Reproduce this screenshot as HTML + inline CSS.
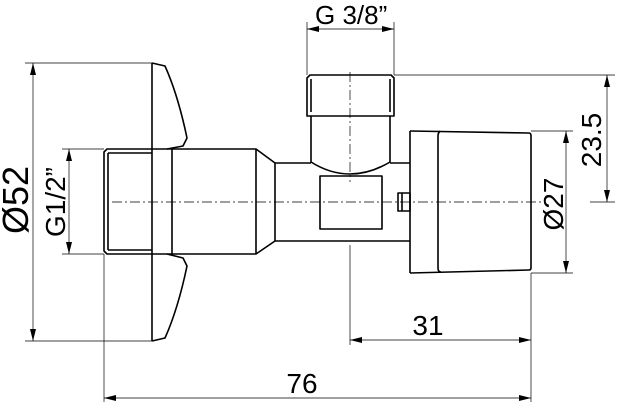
<!DOCTYPE html>
<html><head><style>html,body{margin:0;padding:0;background:#fff}svg{display:block}</style></head>
<body>
<svg width="621" height="407" viewBox="0 0 621 407" xmlns="http://www.w3.org/2000/svg" font-family="Liberation Sans, sans-serif">
<defs>
<marker id="a" viewBox="0 0 12 6" refX="12" refY="3" markerWidth="12" markerHeight="6" orient="auto-start-reverse" markerUnits="userSpaceOnUse"><path d="M0,0L12,3L0,6z" fill="#000"/></marker>
</defs>
<g stroke="#000" stroke-width="0.7" fill="none">
<line x1="25" y1="63" x2="152" y2="63"/><line x1="25" y1="341" x2="152" y2="341"/>
<line x1="62" y1="149" x2="104" y2="149"/><line x1="62" y1="254" x2="104" y2="254"/>
<line x1="104" y1="254" x2="104" y2="402"/><line x1="531" y1="273" x2="531" y2="402"/>
<line x1="350" y1="245" x2="350" y2="345"/>
<line x1="307" y1="22" x2="307" y2="75"/><line x1="394" y1="22" x2="394" y2="75"/>
<line x1="394" y1="75" x2="615" y2="75"/><line x1="590" y1="202" x2="615" y2="202"/>
<line x1="531" y1="131" x2="573" y2="131"/><line x1="531" y1="273" x2="573" y2="273"/>
<line x1="33" y1="63" x2="33" y2="341" marker-start="url(#a)" marker-end="url(#a)"/>
<line x1="69" y1="149" x2="69" y2="254" marker-start="url(#a)" marker-end="url(#a)"/>
<line x1="307" y1="29" x2="394" y2="29" marker-start="url(#a)" marker-end="url(#a)"/>
<line x1="607" y1="75" x2="607" y2="202" marker-start="url(#a)" marker-end="url(#a)"/>
<line x1="566" y1="131" x2="566" y2="273" marker-start="url(#a)" marker-end="url(#a)"/>
<line x1="350" y1="340" x2="531" y2="340" marker-start="url(#a)" marker-end="url(#a)"/>
<line x1="104" y1="398" x2="531" y2="398" marker-start="url(#a)" marker-end="url(#a)"/>
<line x1="112" y1="202" x2="545" y2="202" stroke-dasharray="10,3,2,3"/>
<line x1="350" y1="72" x2="350" y2="182" stroke-dasharray="10,3,2,3"/>
</g>
<g stroke="#000" stroke-width="1.6" fill="none" stroke-linejoin="round">
<line x1="152" y1="63" x2="152" y2="341"/>
<path d="M152,63 L165,66 Q178,95 187,138 L183,146 L167,149"/>
<path d="M152,341 L165,338 Q178,309 187,266 L183,258 L167,254"/>
<path d="M152,149 L107,149 L104,152 L104,251 L107,254 L152,254"/>
<line x1="108" y1="153" x2="152" y2="153"/><line x1="108" y1="250" x2="152" y2="250"/><line x1="108" y1="153" x2="108" y2="250"/>
<path d="M152,149 L256,149 L275,163 L311,163"/>
<path d="M152,254 L256,254 L275,241 L410,241"/>
<line x1="172" y1="149" x2="172" y2="254"/><line x1="256" y1="149" x2="256" y2="254"/>
<line x1="275" y1="163" x2="275" y2="241"/>
<line x1="390" y1="163" x2="410" y2="163"/>
<path d="M311,116 L311,162 Q330,174 350,174 Q370,174 390,162 L390,116"/>
<path d="M307,116 L307,78 L310,75 L391,75 L394,78 L394,116 Z"/>
<line x1="311" y1="79" x2="311" y2="112"/><line x1="390" y1="79" x2="390" y2="112"/>
<rect x="320" y="176" width="62" height="53"/>
<rect x="398" y="193" width="12" height="18"/><line x1="402" y1="193" x2="402" y2="211"/>
<path d="M410,131 L410,273"/>
<path d="M410,131 L529,133 Q531,133 531,136 L531,268 Q531,270 529,270 L410,273"/>
<path d="M440,131 Q438,133 438,136 L438,268 Q438,272 441,272"/>
</g>
<g font-size="28" fill="#000">
<text x="315" y="24" font-size="26">G 3/8”</text>
<text x="428" y="335" text-anchor="middle">31</text>
<text x="302" y="393" text-anchor="middle">76</text>
<text transform="translate(28,200) rotate(-90)" text-anchor="middle" font-size="36">Ø52</text>
<text transform="translate(65,202) rotate(-90)" text-anchor="middle" font-size="28">G1/2”</text>
<text transform="translate(601,140) rotate(-90)" text-anchor="middle" font-size="28">23.5</text>
<text transform="translate(563,204) rotate(-90)" text-anchor="middle" font-size="28">Ø27</text>
</g>
</svg>
</body></html>
